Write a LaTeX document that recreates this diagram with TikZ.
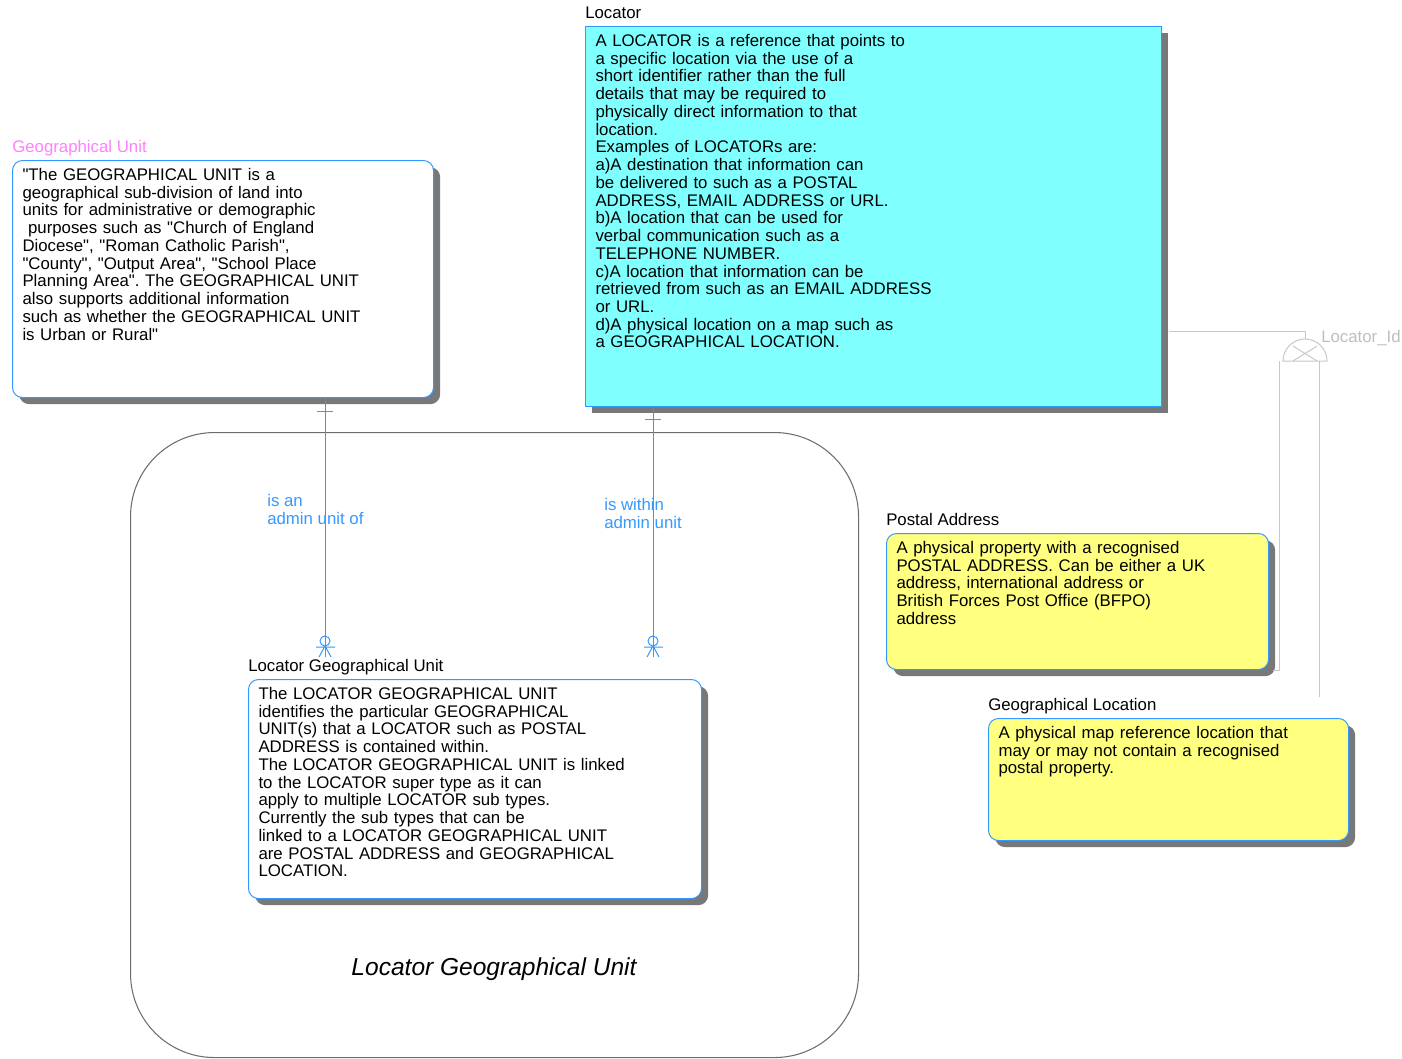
\documentclass[tikz,border=0pt]{standalone}
\usepackage{fontspec}
\setmainfont{Liberation Sans}[Ligatures=TeXOff]
\usepackage{tikz}
\usetikzlibrary{shadows,positioning}
\frenchspacing

\definecolor{entblue}{RGB}{51,153,255}
\definecolor{loccyan}{RGB}{128,255,255}
\definecolor{subyellow}{RGB}{255,255,128}
\definecolor{gupink}{RGB}{255,128,255}
\definecolor{catgrey}{RGB}{200,200,200}
\definecolor{idgrey}{RGB}{190,190,190}
\definecolor{shadowgrey}{RGB}{120,120,120}
\definecolor{subgrey}{RGB}{110,110,110}

\begin{document}
\begin{tikzpicture}[x=0.75pt,y=-0.75pt,
  entity/.style={draw=entblue, line width=0.75pt, anchor=north west, align=left,
    inner xsep=7.5pt, inner ysep=4pt, text height=11pt,
    font=\fontsize{12.6}{13.3}\selectfont,
    drop shadow={shadow xshift=5pt, shadow yshift=-5pt, fill=shadowgrey, opacity=1}},
  ent/.style={entity, rounded corners=7.5pt},
  entname/.style={anchor=base west, inner sep=0pt, font=\fontsize{12.6}{13.3}\selectfont},
  rel/.style={draw=entblue, color=entblue, line width=0.75pt},
  rellabel/.style={anchor=north west, inner sep=0pt, align=left, text=entblue,
    font=\fontsize{12.6}{13.5}\selectfont},
  subline/.style={draw=catgrey, color=catgrey, line width=0.75pt}]
     \useasboundingbox (0,0) rectangle (1402,1058);

     \node[draw=subgrey, line width=0.8pt, rounded corners=63pt, anchor=north west,
           minimum width=546pt, minimum height=468.75pt, inner sep=0pt] at (130,432) (lgusub) {};
     \node[anchor=base, font=\itshape\fontsize{18.4}{20}\selectfont] at (494,975) (lgucap) {Locator Geographical Unit};

     \node[ent, fill=white, text width=300.75pt, text depth=158.75pt] at (12,160) (gu)
          {"The GEOGRAPHICAL UNIT is a\\
           geographical sub-division of land into\\
           units for administrative or demographic\\
           \ purposes such as "Church of England\\
           Diocese", "Roman Catholic Parish",\\
           "County", "Output Area", "School Place\\
           Planning Area". The GEOGRAPHICAL UNIT\\
           also supports additional information\\
           such as whether the GEOGRAPHICAL UNIT\\
           is Urban or Rural"};
     \node[entity, fill=loccyan, text width=417pt, text depth=266pt] at (585,26) (loc)
          {A LOCATOR is a reference that points to\\
           a specific location via the use of a\\
           short identifier rather than the full\\
           details that may be required to\\
           physically direct information to that\\
           location.\\
           Examples of LOCATORs are:\\
           a)A destination that information can\\
           be delivered to such as a POSTAL\\
           ADDRESS, EMAIL ADDRESS or URL.\\
           b)A location that can be used for\\
           verbal communication such as a\\
           TELEPHONE NUMBER.\\
           c)A location that information can be\\
           retrieved from such as an EMAIL ADDRESS\\
           or URL.\\
           d)A physical location on a map such as\\
           a GEOGRAPHICAL LOCATION.};
     \node[ent, fill=white, text width=324.75pt, text depth=145.25pt] at (248,679) (lgu)
          {The LOCATOR GEOGRAPHICAL UNIT\\
           identifies the particular GEOGRAPHICAL\\
           UNIT(s) that a LOCATOR such as POSTAL\\
           ADDRESS is contained within.\\
           The LOCATOR GEOGRAPHICAL UNIT is linked\\
           to the LOCATOR super type as it can\\
           apply to multiple LOCATOR sub types.\\
           Currently the sub types that can be\\
           linked to a LOCATOR GEOGRAPHICAL UNIT\\
           are POSTAL ADDRESS and GEOGRAPHICAL\\
           LOCATION.};
     \node[ent, fill=subyellow, text width=271.5pt, text depth=83pt] at (886,533) (pa)
          {A physical property with a recognised\\
           POSTAL ADDRESS. Can be either a UK\\
           address, international address or\\
           British Forces Post Office (BFPO)\\
           address};
     \node[ent, fill=subyellow, text width=255pt, text depth=72.5pt] at (988,718) (gl)
          {A physical map reference location that\\
           may or may not contain a recognised\\
           postal property.};

     \node[entname, text=gupink] at ([yshift=6pt]gu.north west) (guname) {Geographical Unit};
     \node[entname] at ([yshift=6pt]loc.north west) (locname) {Locator};
     \node[entname] at ([yshift=6pt]lgu.north west) (lguname) {Locator Geographical Unit};
     \node[entname] at ([yshift=6pt]pa.north west) (paname) {Postal Address};
     \node[entname] at ([yshift=6pt]gl.north west) (glname) {Geographical Location};

     \coordinate (gufoot) at (325,657);
     \coordinate (locfoot) at (653,657);
     \path[rel] (gu.south -| gufoot) edge (gufoot)
                (loc.south -| locfoot) edge (locfoot);
     \draw[rel] (gu.south -| gufoot) ++(-8,13) -- ++(16,0)
                (loc.south -| locfoot) ++(-8,12) -- ++(16,0);
     \draw[rel] (gufoot) ++(0,-16) circle[radius=3.75pt]
                (gufoot) ++(-9,-10) -- ++(19,0)
                (gufoot) ++(0,-11) -- ++(-6,11)
                (gufoot) ++(0,-11) -- ++(6,11);
     \draw[rel] (locfoot) ++(0,-16) circle[radius=3.75pt]
                (locfoot) ++(-9,-10) -- ++(19,0)
                (locfoot) ++(0,-11) -- ++(-6,11)
                (locfoot) ++(0,-11) -- ++(6,11);
     \node[rellabel] at (267,494) (guverb) {is an\\admin unit of};
     \node[rellabel] at (604,498) (locverb) {is within\\admin unit};

     \coordinate (cat) at (1305,361);
     \coordinate (locid) at (1305,331);
     \coordinate (glfoot) at (1319,697);
     \draw[subline] ([xshift=5pt]loc.east |- locid) -- (locid) -- ++(0,8);
     \draw[subline] (cat) ++(-22,0) arc[start angle=180, end angle=0, radius=16.5pt] -- cycle;
     \draw[subline] (cat) ++(-12,-15) -- ++(24,15)
                    (cat) ++(12,-15) -- ++(-24,15);
     \draw[subline] (cat) ++(-26,0) |- ([xshift=3pt]pa.south east);
     \draw[subline] (cat) ++(14,0) -- (glfoot);
     \node[entname, text=idgrey] at (1321,342) (locidname) {Locator\_Id};
\end{tikzpicture}
\end{document}
